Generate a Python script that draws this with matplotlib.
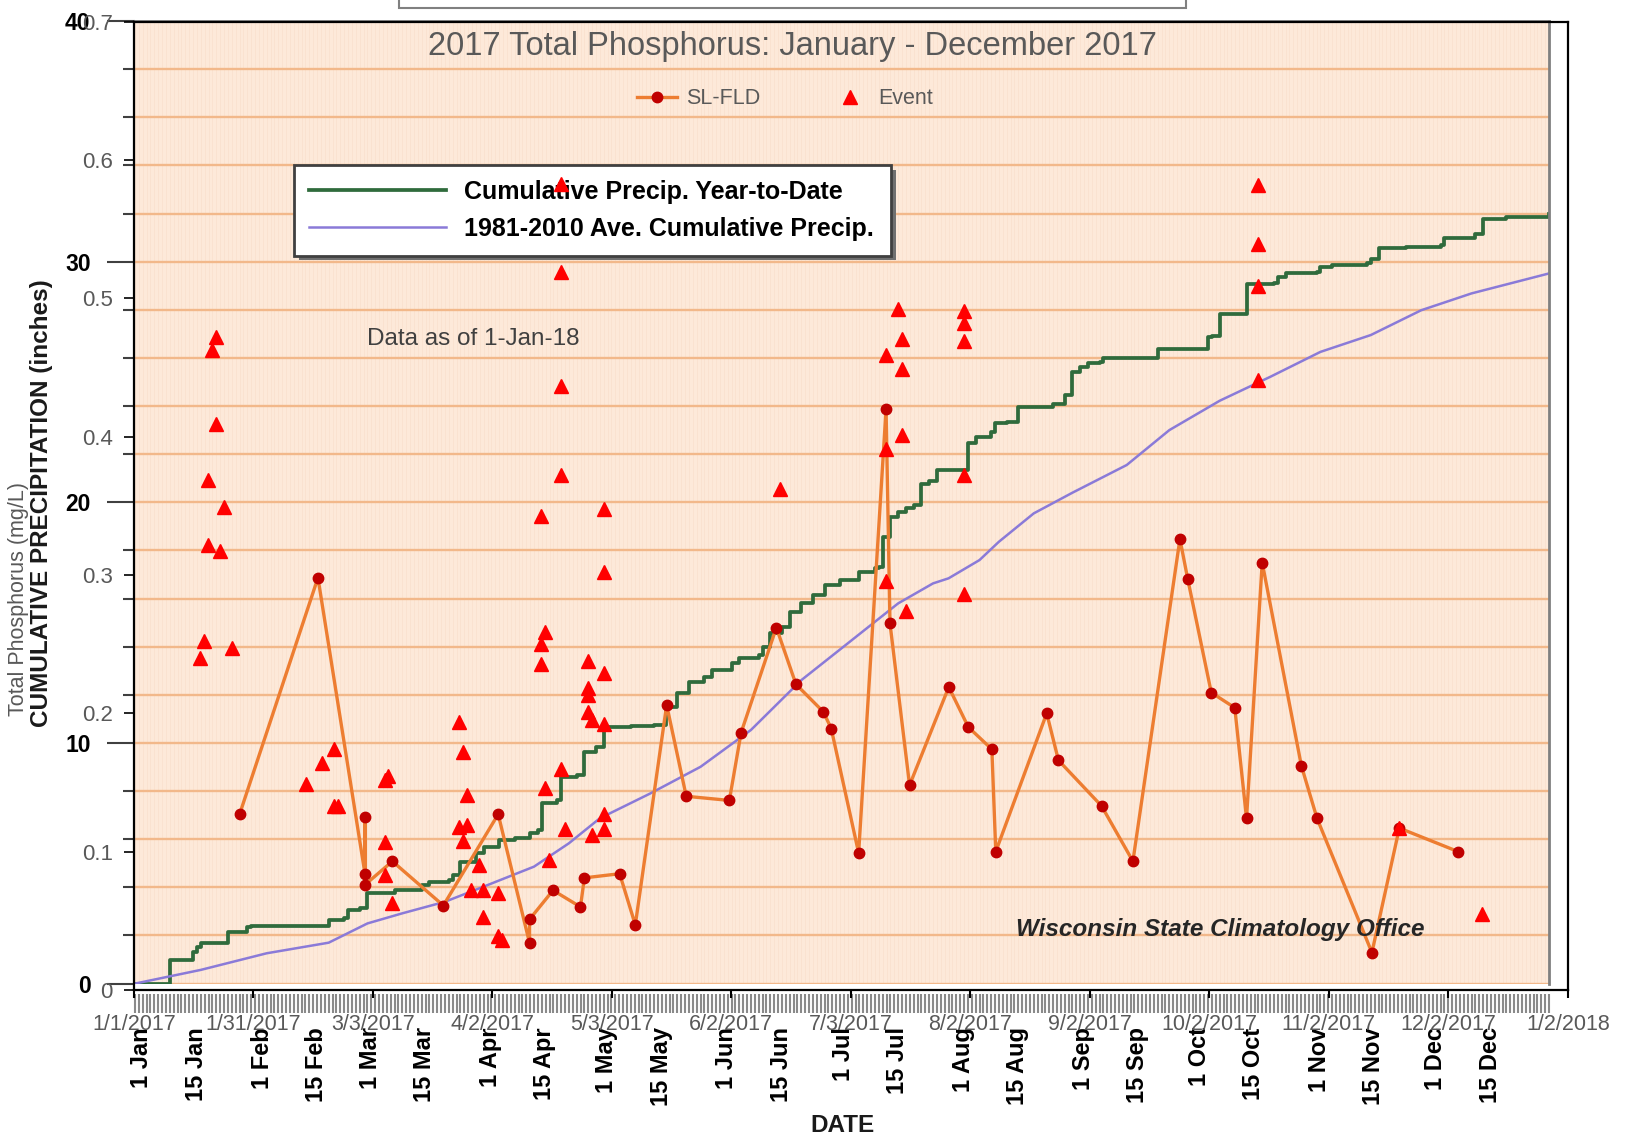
import numpy as np
import pandas as pd
import matplotlib
matplotlib.use("Agg")
import matplotlib.pyplot as plt
from matplotlib.patches import Rectangle
from matplotlib.ticker import MultipleLocator
from matplotlib.lines import Line2D
from matplotlib.transforms import ScaledTranslation

ARIAL = ["Liberation Sans", "DejaVu Sans"]
plt.rcParams["font.family"] = ARIAL

# --- cumulative precipitation (inches), day of year counted from 1 Jan ---
precip_days = [0, 9, 15, 16, 17, 24, 29, 30, 50, 54, 55, 58, 60, 67, 74, 76, 81, 82, 84, 88,
               90, 94, 98, 102, 104, 105, 109, 110, 114, 116, 119, 121, 128, 134, 137, 140, 143,
               147, 149, 154, 156, 161, 162, 164, 167, 169, 172, 175, 178, 182, 187, 191, 192,
               193, 195, 197, 199, 201, 203, 205, 207, 215, 217, 221, 222, 225, 228, 237, 240,
               242, 244, 246, 249, 250, 264, 277, 278, 280, 287, 294, 295, 297, 305, 306, 309,
               318, 319, 321, 328, 337, 338, 346, 348, 354, 365]
precip_ytd = [0.00, 0.98, 1.33, 1.53, 1.67, 2.16, 2.36, 2.40, 2.64, 2.71, 3.06, 3.13, 3.75, 3.89,
              4.10, 4.23, 4.30, 4.51, 5.06, 5.41, 5.69, 5.97, 6.03, 6.24, 6.38, 7.49, 7.63, 8.60,
              8.67, 9.63, 9.84, 10.67, 10.70, 10.74, 11.50, 12.06, 12.54, 12.75, 13.03, 13.31,
              13.51, 13.65, 14.00, 14.55, 14.83, 15.45, 15.80, 16.14, 16.56, 16.77, 17.11, 17.25,
              17.32, 18.57, 19.40, 19.60, 19.75, 19.88, 20.78, 20.90, 21.34, 22.45, 22.72, 22.93,
              23.28, 23.35, 23.97, 24.10, 24.45, 25.42, 25.63, 25.77, 25.84, 25.98, 26.39, 26.85,
              26.90, 27.82, 29.09, 29.12, 29.37, 29.54, 29.58, 29.78, 29.85, 29.93, 30.13, 30.55,
              30.62, 30.68, 31.00, 31.14, 31.79, 31.86, 32.00]

normal_days = [0, 17, 34, 50, 60, 69, 80, 90, 103, 112, 120, 133, 146, 159, 172, 184, 197, 206,
               210, 218, 223, 232, 242, 256, 267, 280, 293, 306, 319, 332, 345, 365]
normal_precip = [0.0, 0.57, 1.26, 1.70, 2.50, 2.92, 3.40, 4.03, 4.86, 5.83, 6.87, 7.90, 9.01,
                 10.54, 12.61, 14.14, 15.80, 16.63, 16.84, 17.60, 18.36, 19.54, 20.40, 21.55,
                 23.00, 24.22, 25.21, 26.25, 26.95, 27.98, 28.68, 29.51]

precip_tick_days = [0, 14, 31, 45, 59, 73, 90, 104, 120, 134, 151, 165, 181, 195, 212, 226,
                    243, 257, 273, 287, 304, 318, 334, 348]
precip_tick_labels = ["1 Jan", "15 Jan", "1 Feb", "15 Feb", "1 Mar", "15 Mar", "1 Apr", "15 Apr",
                      "1 May", "15 May", "1 Jun", "15 Jun", "1 Jul", "15 Jul", "1 Aug", "15 Aug",
                      "1 Sep", "15 Sep", "1 Oct", "15 Oct", "1 Nov", "15 Nov", "1 Dec", "15 Dec"]

# --- total phosphorus (mg/L) ---
sl_dates = ["2017-01-28", "2017-02-17", "2017-03-01", "2017-03-01", "2017-03-01", "2017-03-08",
            "2017-03-21", "2017-04-04", "2017-04-12", "2017-04-12", "2017-04-18", "2017-04-25",
            "2017-04-26", "2017-05-05", "2017-05-09", "2017-05-17", "2017-05-22", "2017-06-02",
            "2017-06-05", "2017-06-14", "2017-06-19", "2017-06-26", "2017-06-28", "2017-07-05",
            "2017-07-12", "2017-07-13", "2017-07-18", "2017-07-28", "2017-08-02", "2017-08-08",
            "2017-08-09", "2017-08-22", "2017-08-25", "2017-09-05", "2017-09-13", "2017-09-25",
            "2017-09-27", "2017-10-03", "2017-10-09", "2017-10-12", "2017-10-16", "2017-10-26",
            "2017-10-30", "2017-11-13", "2017-11-20", "2017-12-05"]
sl_tp = [0.127, 0.298, 0.084, 0.125, 0.076, 0.093, 0.061, 0.127, 0.034, 0.051, 0.072, 0.060,
         0.081, 0.084, 0.047, 0.206, 0.140, 0.137, 0.186, 0.262, 0.221, 0.201, 0.189, 0.099,
         0.420, 0.265, 0.148, 0.219, 0.190, 0.174, 0.100, 0.200, 0.166, 0.133, 0.093, 0.326,
         0.297, 0.215, 0.204, 0.124, 0.309, 0.162, 0.124, 0.027, 0.117, 0.100]

event_dates = ["2017-01-18", "2017-01-19", "2017-01-20", "2017-01-20", "2017-01-21", "2017-01-22",
               "2017-01-22", "2017-01-23", "2017-01-24", "2017-01-26", "2017-02-14", "2017-02-18",
               "2017-02-21", "2017-02-21", "2017-02-22", "2017-03-06", "2017-03-06", "2017-03-06",
               "2017-03-07", "2017-03-08", "2017-03-25", "2017-03-25", "2017-03-26", "2017-03-26",
               "2017-03-27", "2017-03-27", "2017-03-28", "2017-03-30", "2017-03-31", "2017-03-31",
               "2017-04-04", "2017-04-04", "2017-04-05", "2017-04-15", "2017-04-15", "2017-04-15",
               "2017-04-16", "2017-04-16", "2017-04-17", "2017-04-20", "2017-04-20", "2017-04-20",
               "2017-04-20", "2017-04-20", "2017-04-21", "2017-04-27", "2017-04-27", "2017-04-27",
               "2017-04-27", "2017-04-28", "2017-04-28", "2017-05-01", "2017-05-01", "2017-05-01",
               "2017-05-01", "2017-05-01", "2017-05-01", "2017-06-15", "2017-07-12", "2017-07-12",
               "2017-07-12", "2017-07-15", "2017-07-16", "2017-07-16", "2017-07-16", "2017-07-17",
               "2017-08-01", "2017-08-01", "2017-08-01", "2017-08-01", "2017-08-01", "2017-10-15",
               "2017-10-15", "2017-10-15", "2017-10-15", "2017-11-20", "2017-12-11"]
event_tp = [0.240, 0.252, 0.369, 0.322, 0.463, 0.472, 0.409, 0.317, 0.349, 0.247, 0.149, 0.164,
            0.174, 0.133, 0.133, 0.152, 0.107, 0.083, 0.155, 0.063, 0.194, 0.118, 0.172, 0.108,
            0.141, 0.119, 0.072, 0.090, 0.072, 0.053, 0.070, 0.039, 0.036, 0.250, 0.236, 0.343,
            0.259, 0.146, 0.094, 0.583, 0.519, 0.437, 0.372, 0.160, 0.116, 0.238, 0.218, 0.213,
            0.201, 0.195, 0.112, 0.348, 0.302, 0.229, 0.192, 0.127, 0.116, 0.362, 0.459, 0.391,
            0.296, 0.492, 0.471, 0.449, 0.401, 0.274, 0.491, 0.482, 0.469, 0.372, 0.286, 0.582,
            0.539, 0.509, 0.441, 0.117, 0.055]

tp_xtick_labels = ["1/1/2017", "1/31/2017", "3/3/2017", "4/2/2017", "5/3/2017", "6/2/2017",
                   "7/3/2017", "8/2/2017", "9/2/2017", "10/2/2017", "11/2/2017", "12/2/2017",
                   "1/2/2018"]
tp_yticks = [0, 0.1, 0.2, 0.3, 0.4, 0.5, 0.6, 0.7]
tp_ytick_labels = ["0", "0.1", "0.2", "0.3", "0.4", "0.5", "0.6", "0.7"]

start = pd.Timestamp("2017-01-01")
sl_days = (pd.to_datetime(sl_dates) - start).days
event_days = (pd.to_datetime(event_dates) - start).days

GRAY = "#595959"
fig = plt.figure(figsize=(16.27, 11.43), dpi=100)

# ---------- background: precipitation chart ----------
ax_p = fig.add_axes([0.08297, 0.13946, 0.86909, 0.84217])
ax_p.set_facecolor("#fde9d9")
ax_p.set_xlim(0, 365)
ax_p.set_ylim(0, 40)
ax_p.set_yticks([0, 10, 20, 30, 40])
ax_p.set_yticklabels(["0", "10", "20", "30", "40"], fontweight="bold")
ax_p.yaxis.set_minor_locator(MultipleLocator(2))
ax_p.set_xticks(precip_tick_days)
ax_p.set_xticklabels(precip_tick_labels, fontweight="bold")
ax_p.xaxis.set_minor_locator(MultipleLocator(1))
ax_p.grid(axis="x", which="both", color="#f9e0cd", lw=0.5)
ax_p.grid(axis="y", which="both", color="#f2b88a", lw=1.7)
ax_p.set_axisbelow(True)
ax_p.spines["left"].set_visible(False)
ax_p.spines["bottom"].set_position(("outward", 7.5))
ax_p.spines["bottom"].set_visible(False)
for s in ["top", "right"]:
    ax_p.spines[s].set_color("#808080")
    ax_p.spines[s].set_linewidth(2)
ax_p.tick_params(axis="x", which="both", direction="out", length=14, width=1.5,
                 color="#8a8a8a", pad=10, labelsize=17, labelrotation=90)
ax_p.tick_params(axis="y", which="major", direction="out", length=20, width=1.5,
                 color="#404040", pad=12, labelsize=16.5)
ax_p.tick_params(axis="y", which="minor", direction="out", length=9, width=1.5, color="#404040")
shift = ScaledTranslation(5 / 72, 0, fig.dpi_scale_trans)
for lbl in ax_p.get_xticklabels():
    lbl.set_fontweight("bold")
    lbl.set_transform(lbl.get_transform() + shift)
for lbl in ax_p.get_yticklabels():
    lbl.set_fontweight("bold")

ax_p.plot(precip_days, precip_ytd, drawstyle="steps-post", color="#2f6b3c", lw=2.7,
          label="Cumulative Precip. Year-to-Date")
ax_p.plot(normal_days, normal_precip, color="#8a7ad8", lw=1.8,
          label="1981-2010 Ave. Cumulative Precip.")

leg_p = ax_p.legend(loc="upper left", bbox_to_anchor=(0.1124, 0.7504, 0.4222, 0.1),
                    mode="expand", borderaxespad=0,
                    prop={"weight": "bold", "size": 18},
                    handlelength=5.5, handletextpad=0.7, borderpad=0.6, labelspacing=0.5,
                    frameon=True, fancybox=False, framealpha=1, edgecolor="#404040",
                    shadow={"ox": 3.5, "oy": -3.5, "facecolor": "#707070",
                            "edgecolor": "none", "alpha": 1})
leg_p.get_frame().set_linewidth(2)

# ---------- overlay: total phosphorus ----------
ax = fig.add_axes([0.08224, 0.13395, 0.88138, 0.84698])
ax.set_facecolor("none")
ax.set_xlim(0, 366)
ax.set_ylim(0, 0.7)
ax.set_xticks(np.arange(len(tp_xtick_labels)) * 30.5)
ax.set_xticklabels(tp_xtick_labels)
ax.set_yticks(tp_yticks)
ax.set_yticklabels(tp_ytick_labels)
for s in ax.spines.values():
    s.set_color("black")
    s.set_linewidth(1.6)
ax.tick_params(axis="y", direction="out", length=7, width=1.2, pad=8, labelsize=16,
               labelcolor=GRAY)
ax.tick_params(axis="x", direction="out", length=6, width=1.5, pad=11, labelsize=15.5,
               labelcolor=GRAY)

ax.plot(sl_days, sl_tp, color="#ED7D31", lw=2.4, marker="o", ms=7.5, mfc="#C00000",
        mec="#C00000", zorder=3)
ax.plot(event_days, event_tp, ls="none", marker="^", ms=9.5, color="#FF0000", zorder=4)

handles = [Line2D([], [], color="#ED7D31", lw=2.4, marker="o", ms=7.5, mfc="#C00000",
                  mec="#C00000"),
           Line2D([], [], ls="none", marker="^", ms=9.5, color="#FF0000")]
fig.legend(handles, ["SL-FLD", "Event"], loc="center", bbox_to_anchor=(0.4825, 0.9137),
           ncol=2, frameon=False, fontsize=15.5, handlelength=1.9, handletextpad=0.4,
           columnspacing=3.2, labelcolor=GRAY)

# ---------- texts ----------
fig.text(0.4868, 0.9591, "2017 Total Phosphorus: January - December 2017", ha="center",
         va="center", fontsize=23.5, color=GRAY)
fig.text(0.0115, 0.4762, "Total Phosphorus (mg/L)", rotation=90, ha="center", va="center",
         fontsize=15.5, color=GRAY)
fig.text(0.0255, 0.5599, "CUMULATIVE PRECIPITATION (inches)", rotation=90, ha="center",
         va="center", fontsize=17.5, fontweight="bold", color="#1a1a1a")
fig.text(0.5178, 0.015, "DATE", ha="center", va="center", fontsize=17.5, fontweight="bold",
         color="#1a1a1a")
fig.text(0.2254, 0.7031, "Data as of 1-Jan-18", ha="left", va="center", fontsize=17.5,
         color="#404040")
fig.text(0.7499, 0.1866, "Wisconsin State Climatology Office", ha="center", va="center",
         fontsize=17.5, fontweight="bold", fontstyle="italic", color="#262626")

# cut-off title box of the precipitation chart
fig.add_artist(Rectangle((0.2455, 0.9927), 0.4834, 0.05, transform=fig.transFigure,
                         facecolor="white", edgecolor="#808080", lw=1.5, clip_on=False))

fig.savefig("out.png", dpi=100)
